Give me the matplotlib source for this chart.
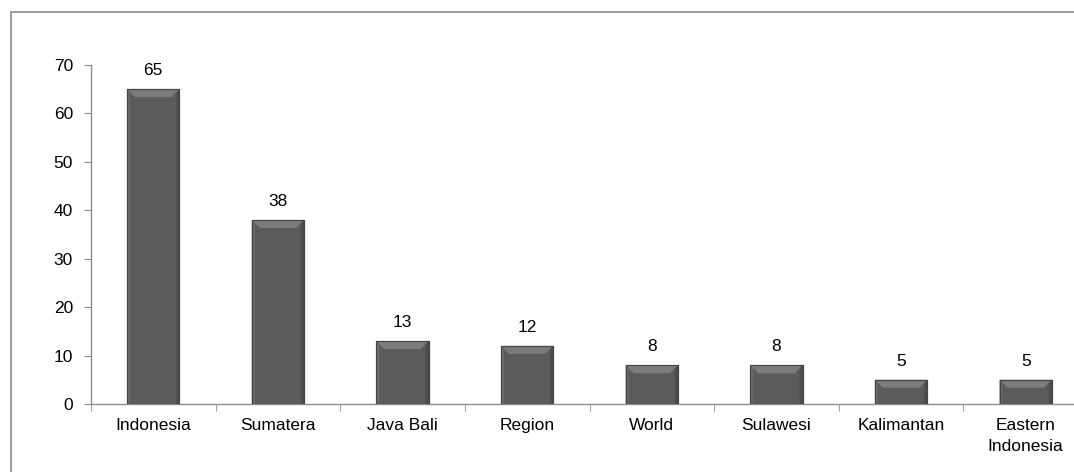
import matplotlib.pyplot as plt
from matplotlib.patches import Rectangle, Polygon

plt.rcParams['font.family'] = ['Liberation Sans', 'DejaVu Sans']

regions = ['Indonesia', 'Sumatera', 'Java Bali', 'Region', 'World',
           'Sulawesi', 'Kalimantan', 'Eastern\nIndonesia']
counts = [65, 38, 13, 12, 8, 8, 5, 5]

fig = plt.figure(figsize=(10.74, 4.72), dpi=100)

# chart-area frame, running off the right and bottom edges
fig.patches.append(Rectangle((11 / 1074, -0.1), 1.2, 1.1 - 12 / 472,
                             transform=fig.transFigure, fill=False,
                             edgecolor='#8c8c8c', linewidth=1.2))

ax = fig.add_axes([91 / 1074, 68 / 472, 997 / 1074, 339 / 472])
x = range(len(regions))
bars = ax.bar(x, counts, width=0.42, color='#5b5b5b', edgecolor='#444444',
              linewidth=0.8, zorder=3)

ax.set_xlim(-0.5, len(regions) - 0.5)
ax.set_ylim(0, 70)

# pixel sizes in data units, for the bevel on each bar
bbox = ax.get_window_extent()
px_x = (len(regions)) / bbox.width
px_y = 70 / bbox.height
bev = 8
side = 3
for b in bars:
    x0, x1, top = b.get_x(), b.get_x() + b.get_width(), b.get_height()
    h = min(bev * px_y, top * 0.5)
    ax.add_patch(Polygon([(x0, top), (x1, top), (x1 - bev * px_x, top - h),
                          (x0 + bev * px_x, top - h)],
                         closed=True, facecolor='#7b7b7b', edgecolor='none', zorder=4))
    ax.add_patch(Polygon([(x0, 0), (x0, top), (x0 + side * px_x, top - side * px_y),
                          (x0 + side * px_x, 0)],
                         closed=True, facecolor='#686868', edgecolor='none', zorder=4))
    ax.add_patch(Polygon([(x1, 0), (x1, top), (x1 - side * px_x, top - side * px_y),
                          (x1 - side * px_x, 0)],
                         closed=True, facecolor='#4b4b4b', edgecolor='none', zorder=4))
    ax.add_patch(Rectangle((x0, 0), x1 - x0, top, fill=False,
                           edgecolor='#444444', linewidth=0.8, zorder=5))

for b, v in zip(bars, counts):
    ax.annotate(str(v), (b.get_x() + b.get_width() / 2, v),
                xytext=(0, 8), textcoords='offset points',
                ha='center', va='bottom', fontsize=12.5)

ax.set_yticks(range(0, 71, 10))
ax.set_xticks(list(x))
ax.set_xticklabels(regions, fontsize=12.5, linespacing=1.5)
ax.set_xticks([i - 0.5 for i in range(len(regions) + 1)], minor=True)
ax.tick_params(axis='x', which='major', length=0, pad=10)
ax.tick_params(axis='x', which='minor', length=5, color='#8c8c8c', direction='out')
ax.tick_params(axis='y', length=5, color='#8c8c8c', labelsize=12.5, pad=8)

for s in ['top', 'right']:
    ax.spines[s].set_visible(False)
for s in ['left', 'bottom']:
    ax.spines[s].set_color('#8c8c8c')
    ax.spines[s].set_linewidth(1.0)

fig.savefig('out.png', dpi=100)
